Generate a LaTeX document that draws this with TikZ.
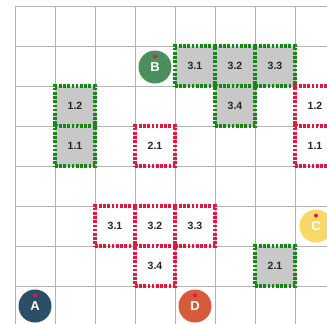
\documentclass[tikz,border=0pt]{standalone}
\usepackage{fontspec}
\setmainfont{Liberation Sans}
\definecolor{gridc}{HTML}{B4B4B4}
\definecolor{grn}{HTML}{138A13}
\definecolor{rd}{HTML}{E3173F}
\definecolor{boxfill}{HTML}{C8C8C8}
\definecolor{cA}{HTML}{2C4E66}
\definecolor{cB}{HTML}{4B905C}
\definecolor{cC}{HTML}{FAD867}
\definecolor{cD}{HTML}{D75B39}
\tikzset{
  cell/.style={rectangle, minimum width=40pt, minimum height=40pt, inner sep=0pt,
    line width=3.4pt, dash pattern=on 2.6pt off 1.6pt, font=\fontsize{10.5}{12}\selectfont\bfseries, text=black!85},
  gcell/.style={cell, draw=grn, fill=boxfill},
  rcell/.style={cell, draw=rd, fill=white},
  agent/.style={circle, minimum size=33pt, inner sep=0pt, text=white, font=\fontsize{13}{15}\selectfont\bfseries},
  reddot/.style={circle, fill=rd, minimum size=4pt, inner sep=0pt}
}
\begin{document}
\begin{tikzpicture}[x=1pt,y=-1pt]
\useasboundingbox (0,0) rectangle (327,324);
\fill[white] (0,0) rectangle (327,324);
\begin{scope}
\clip (0,0) rectangle (327,324);
\foreach \x in {15,55,...,295} \draw[gridc, line width=1pt] (\x,6) -- (\x,330);
\foreach \y in {6,46,...,286} \draw[gridc, line width=1pt] (15,\y) -- (330,\y);
% green boxes
\node[gcell] (g31) at (195,66) {3.1};
\node[gcell] (g32) at (235,66) {3.2};
\node[gcell] (g33) at (275,66) {3.3};
\node[gcell] (g34) at (235,106) {3.4};
\node[gcell] (g12) at (75,106) {1.2};
\node[gcell] (g11) at (75,146) {1.1};
\node[gcell] (g21) at (275,266) {2.1};
% red boxes
\node[rcell] (r21) at (155,146) {2.1};
\node[rcell] (r12) at (315,106) {1.2};
\node[rcell] (r11) at (315,146) {1.1};
\node[rcell] (r31) at (115,226) {3.1};
\node[rcell] (r32) at (155,226) {3.2};
\node[rcell] (r33) at (195,226) {3.3};
\node[rcell] (r34) at (155,266) {3.4};
% agents
\node[agent, fill=cB] (B) at (155,67) {B};
\node[reddot] (dB) at (155,56.5) {};
\node[agent, fill=cA] (A) at (35,306) {A};
\node[reddot] (dA) at (35,295.5) {};
\node[agent, fill=cD] (D) at (195,306) {D};
\node[reddot] (dD) at (195,295.5) {};
\node[agent, fill=cC] (C) at (316,226) {C};
\node[reddot] (dC) at (316,215.5) {};
\end{scope}
\end{tikzpicture}
\end{document}
